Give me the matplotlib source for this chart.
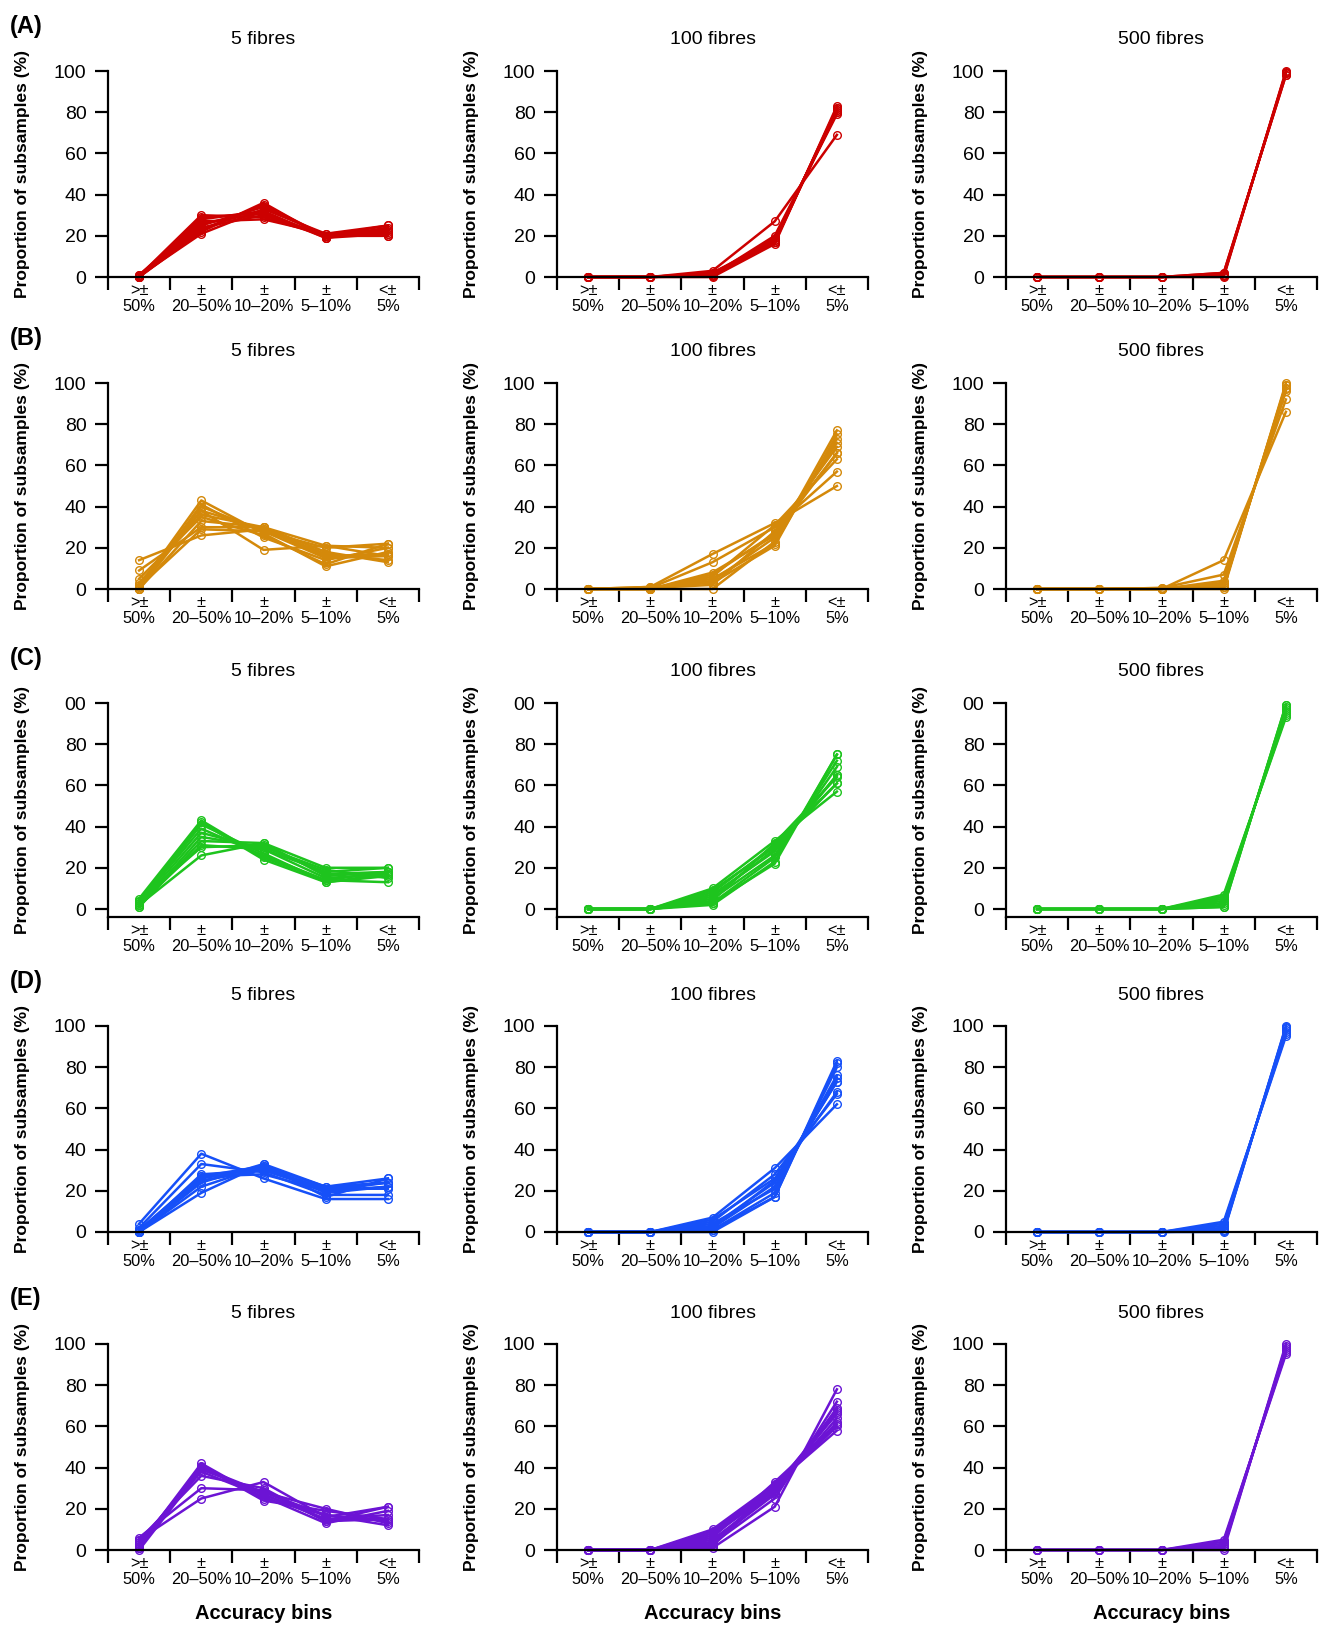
import matplotlib
matplotlib.use("Agg")
import matplotlib.pyplot as plt

plt.rcParams["font.family"] = ["Liberation Sans", "DejaVu Sans"]

BIN_LABELS = [">±\n50%", "±\n20–50%", "±\n10–20%", "±\n5–10%", "<±\n5%"]
FIBRES = ["5 fibres", "100 fibres", "500 fibres"]
PANELS = ["(A)", "(B)", "(C)", "(D)", "(E)"]

# proportion of subsamples (%) per accuracy bin, one list per subsample set
A_5 = [[0.5, 30, 29, 20, 21], [0, 28, 32, 19, 21], [1, 25, 34, 20, 20],
       [0, 22, 36, 19, 23], [0.5, 21, 33, 21, 25], [0, 24, 30, 20, 25],
       [1, 27, 28, 21, 23], [0, 23, 35, 20, 22], [0.5, 26, 31, 19, 24],
       [0, 29, 31, 20, 20]]
A_100 = [[0, 0, 1, 17, 82], [0, 0, 3, 27, 69], [0, 0, 2, 18, 80],
         [0, 0, 0, 16, 83], [0, 0, 1, 19, 80], [0, 0, 2, 17, 81],
         [0, 0, 1, 18, 81], [0, 0, 0.5, 17, 82], [0, 0, 1, 20, 79]]
A_500 = [[0, 0, 0, 2, 98], [0, 0, 0, 0, 100], [0, 0, 0, 1, 99],
         [0, 0, 0, 0.5, 99.5], [0, 0, 0, 2, 98], [0, 0, 0, 1, 99]]

B_5 = [[14, 26, 29, 17, 14], [9, 30, 30, 15, 16], [2, 38, 19, 21, 20],
       [1, 43, 27, 11, 18], [0, 40, 28, 15, 17], [3, 36, 30, 18, 13],
       [0, 33, 30, 21, 16], [5, 35, 26, 12, 22], [0, 41, 25, 14, 20],
       [1, 29, 28, 20, 22], [0, 38, 29, 16, 17]]
B_100 = [[0, 1, 17, 32, 50], [0, 0.5, 13, 30, 57], [0, 0, 7, 27, 66],
         [0, 0, 5, 22, 73], [0, 1, 3, 21, 75], [0, 0, 0, 23, 77],
         [0, 0, 6, 31, 63], [0, 0.5, 2, 28, 69], [0, 0, 4, 25, 71],
         [0, 0, 8, 26, 66]]
B_500 = [[0, 0, 0, 14, 86], [0, 0, 0.5, 7, 92], [0, 0, 0, 3, 97],
         [0, 0, 0, 1, 99], [0, 0, 0, 0, 100], [0, 0, 0.5, 2, 97.5],
         [0, 0, 0, 4, 96], [0, 0, 0, 1, 99]]

C_5 = [[5, 43, 25, 14, 13], [3, 41, 27, 13, 16], [2, 37, 29, 15, 17],
       [1, 33, 32, 16, 18], [4, 30, 31, 17, 18], [2, 26, 32, 20, 20],
       [3, 39, 26, 14, 18], [1, 35, 30, 19, 15], [4, 42, 24, 13, 17],
       [2, 31, 29, 18, 20]]
C_100 = [[0, 0, 2, 23, 75], [0, 0, 3, 25, 72], [0, 0, 5, 26, 69],
         [0, 0, 7, 28, 65], [0, 0, 9, 30, 61], [0, 0, 10, 33, 57],
         [0, 0, 4, 32, 64], [0, 0, 6, 29, 65], [0, 0, 8, 31, 61],
         [0, 0, 3, 22, 75]]
C_500 = [[0, 0, 0, 1, 99], [0, 0, 0, 2, 98], [0, 0, 0, 4, 96],
         [0, 0, 0, 7, 93], [0, 0, 0, 3, 97], [0, 0, 0, 5, 95],
         [0, 0, 0, 1, 99], [0, 0, 0, 6, 94]]

D_5 = [[4, 38, 26, 16, 16], [2, 33, 29, 18, 18], [0, 28, 30, 20, 22],
       [0, 27, 32, 19, 22], [1, 26, 31, 21, 21], [0, 24, 33, 17, 26],
       [0, 22, 32, 22, 24], [0, 19, 33, 22, 26], [1, 27, 28, 20, 24],
       [0, 25, 30, 21, 24]]
D_100 = [[0, 0, 7, 31, 62], [0, 0, 5, 28, 67], [0, 0, 3, 24, 73],
         [0, 0, 2, 22, 76], [0, 0, 1, 19, 80], [0, 0, 0, 17, 83],
         [0, 0, 4, 21, 75], [0, 0, 1, 17, 82], [0, 0, 6, 26, 68],
         [0, 0, 2, 25, 73]]
D_500 = [[0, 0, 0, 4, 96], [0, 0, 0, 0, 100], [0, 0, 0, 2, 98],
         [0, 0, 0, 1, 99], [0, 0, 0, 3, 97], [0, 0, 0, 0.5, 99.5],
         [0, 0, 0, 5, 95]]

E_5 = [[5, 25, 33, 16, 21], [6, 30, 29, 14, 21], [1, 41, 24, 19, 15],
       [3, 40, 27, 15, 15], [0, 39, 28, 20, 13], [4, 38, 26, 13, 19],
       [2, 42, 25, 17, 14], [3, 40, 28, 17, 12], [5, 36, 30, 14, 15],
       [1, 40, 27, 15, 17]]
E_100 = [[0, 0, 1, 21, 78], [0, 0, 3, 25, 72], [0, 0, 10, 32, 58],
         [0, 0, 8, 30, 62], [0, 0, 5, 28, 67], [0, 0, 6, 33, 61],
         [0, 0, 4, 27, 69], [0, 0, 9, 31, 60], [0, 0, 2, 30, 68],
         [0, 0, 7, 29, 64], [0, 0, 3, 31, 66]]
E_500 = [[0, 0, 0, 5, 95], [0, 0, 0, 0, 100], [0, 0, 0, 3, 97],
         [0, 0, 0, 1, 99], [0, 0, 0, 4, 96], [0, 0, 0, 2, 98]]

ROW_DATA = [[A_5, A_100, A_500], [B_5, B_100, B_500], [C_5, C_100, C_500],
            [D_5, D_100, D_500], [E_5, E_100, E_500]]
ROW_COLORS = ["#CC0000", "#D4890A", "#1EC41E", "#1650F8", "#6C14D4"]

W, H = 1322, 1626
COL_LEFT = [108, 557, 1006]
AX_W = 311
ROW_TOP = [71, 383, 703, 1026, 1344]
AX_H = 206
EXTRA = [0, 0, 8, 0, 0]   # row C has its x axis dropped a little below 0


def rect(left, top, width, height):
    return [left / W, 1 - (top + height) / H, width / W, height / H]


fig = plt.figure(figsize=(W / 100, H / 100), dpi=100)
fig.patch.set_facecolor("white")

xs = [1, 2, 3, 4, 5]
for r in range(5):
    top = ROW_TOP[r]
    h = AX_H + EXTRA[r]
    ymin = -100 * EXTRA[r] / AX_H
    fig.text(10 / W, 1 - (top - 45) / H, PANELS[r], fontsize=17,
             fontweight="bold", ha="left", va="center")
    for c in range(3):
        left = COL_LEFT[c]
        ax = fig.add_axes(rect(left, top, AX_W, h))
        for series in ROW_DATA[r][c]:
            ax.plot(xs, series, color=ROW_COLORS[r], lw=1.8, marker="o",
                    ms=5.5, mfc="none", mew=1.0, clip_on=False)
        ax.set_xlim(0.5, 5.5)
        ax.set_ylim(ymin, 100)
        for side in ("top", "right"):
            ax.spines[side].set_visible(False)
        for side in ("left", "bottom"):
            ax.spines[side].set_linewidth(1.6)
        ax.set_yticks([0, 20, 40, 60, 80, 100])
        ylabels = ["0", "20", "40", "60", "80", "100"]
        if r == 2:
            ylabels[-1] = "00"
        ax.set_yticklabels(ylabels, fontsize=14)
        ax.set_xticks([0.5, 1.5, 2.5, 3.5, 4.5, 5.5])
        ax.set_xticklabels([])
        ax.set_xticks(xs, minor=True)
        ax.set_xticklabels(BIN_LABELS, minor=True, fontsize=11.8,
                           linespacing=1.1)
        ax.tick_params(axis="both", which="major", direction="out",
                       length=9.5, width=1.6, pad=6)
        ax.tick_params(axis="x", which="minor", length=0, pad=4)
        ax.set_ylabel("Proportion of subsamples (%)", fontsize=12.5,
                      fontweight="bold")
        ax.yaxis.set_label_coords(-78 / AX_W, 0.5)
        fig.text((left + AX_W / 2) / W, 1 - (top - 31) / H, FIBRES[c],
                 fontsize=14, ha="center", va="center")
        if r == 4:
            fig.text((left + AX_W / 2) / W, 1 - 1613 / H, "Accuracy bins",
                     fontsize=14.5, fontweight="bold", ha="center",
                     va="center")

fig.savefig("out.png", dpi=100, facecolor="white")
